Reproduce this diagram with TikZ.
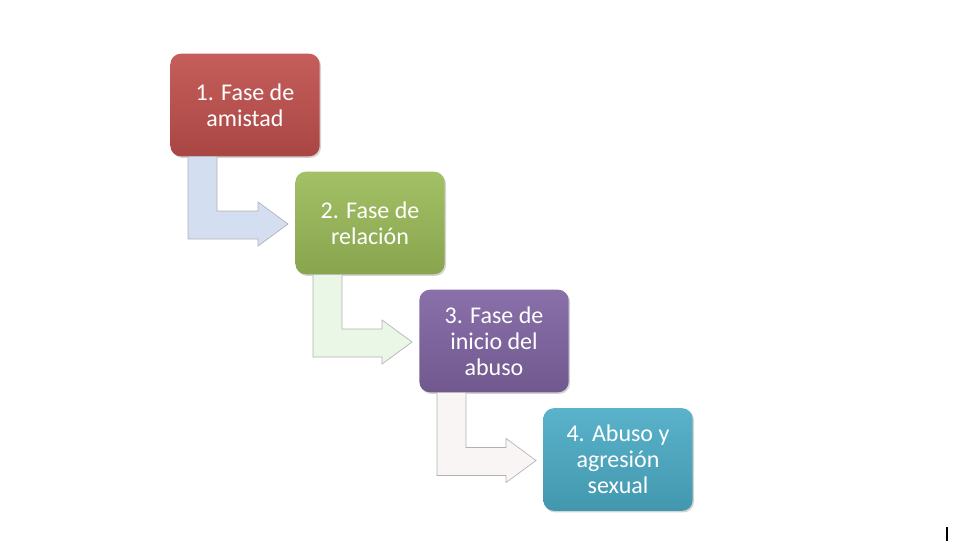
\documentclass[tikz,border=0pt]{standalone}
\usepackage{fontspec}
\setmainfont{Carlito}
\usetikzlibrary{calc,shadows}

\definecolor{faseroja}{HTML}{C0504D}
\definecolor{faseverde}{HTML}{9BBB59}
\definecolor{fasemorada}{HTML}{8064A2}
\definecolor{faseazul}{HTML}{4BACC6}
\definecolor{flechaazul}{HTML}{D3DEF0}
\definecolor{flechaverde}{HTML}{EAF6E6}
\definecolor{flecharosa}{HTML}{F9F5F5}

% bent arrow from the bottom of #1 to the left side of #2
\newcommand{\flechaL}[3]{%
  \draw[flecha,fill=#3]
    ($(#1.south west)+(18,0)$) -- ($(#1.south west)+(47,0)$)
    -- ($(#1.south west |- #2.west)+(47,-12)$) -- ($(#2.west)+(-37,-12)$)
    -- ($(#2.west)+(-37,-21)$) -- ($(#2.west)+(-7,1)$)
    -- ($(#2.west)+(-37,23)$) -- ($(#2.west)+(-37,16)$)
    -- ($(#1.south west |- #2.west)+(18,16)$) -- cycle;}

\begin{document}
\begin{tikzpicture}[x=0.75pt,y=-0.75pt,
  fase/.style={rounded corners=8pt,minimum width=112pt,minimum height=77pt,
    inner sep=0pt,text=white,align=center,
    font=\fontsize{18pt}{19.5pt}\selectfont,
    drop shadow={opacity=0.35,shadow xshift=1pt,shadow yshift=-1.2pt}},
  flecha/.style={draw=black!30,line width=0.5pt,line join=miter}]
  \useasboundingbox (0,0) rectangle (969,546);
  \node[fase,top color=faseroja!92!white,bottom color=faseroja!88!black] (f1) at (245,105) {1. Fase de\\amistad};
  \node[fase,top color=faseverde!92!white,bottom color=faseverde!88!black] (f2) at (370,223) {2. Fase de\\relación};
  \node[fase,top color=fasemorada!92!white,bottom color=fasemorada!88!black] (f3) at (494,341) {3. Fase de\\inicio del\\abuso};
  \node[fase,top color=faseazul!92!white,bottom color=faseazul!88!black] (f4) at (618,459.5) {4. Abuso y\\agresión\\sexual};
  \flechaL{f1}{f2}{flechaazul}
  \flechaL{f2}{f3}{flechaverde}
  \flechaL{f3}{f4}{flecharosa}
  \draw[line width=1pt] (947,527) -- (947,541);
\end{tikzpicture}
\end{document}
